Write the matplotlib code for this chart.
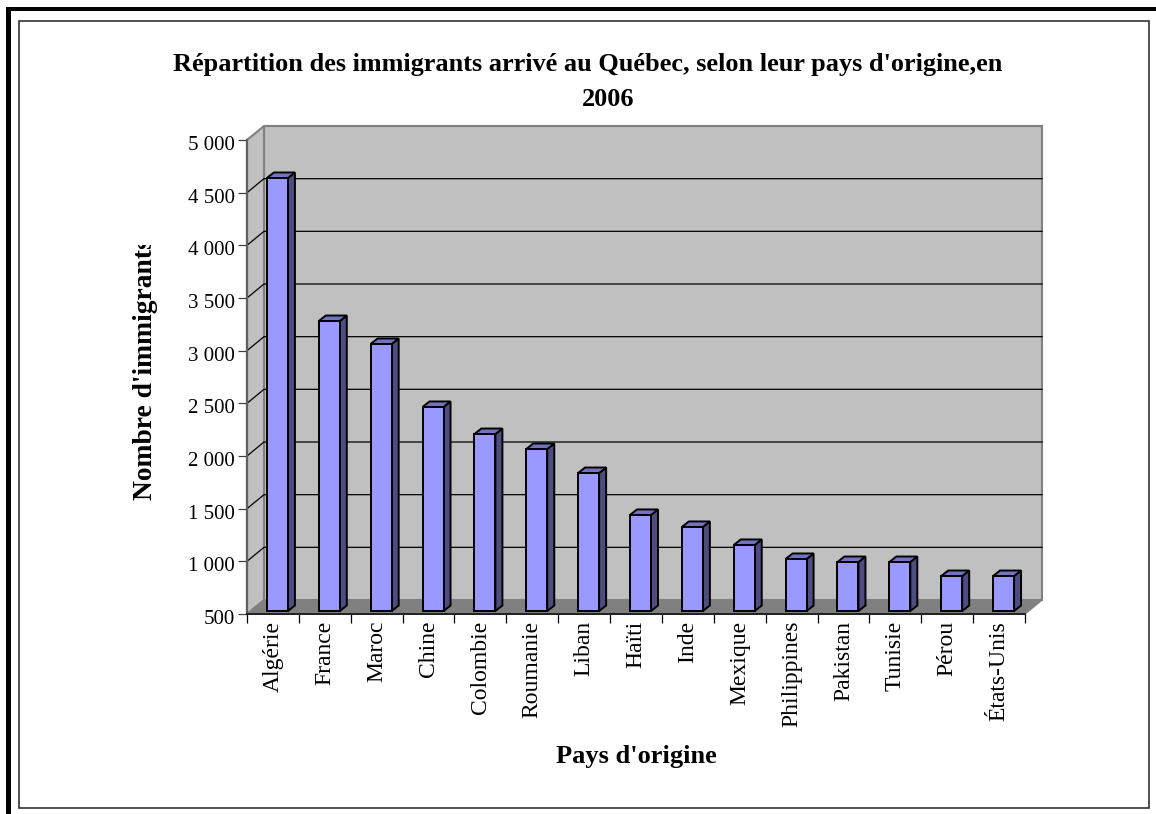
import matplotlib
matplotlib.use("Agg")
import matplotlib.pyplot as plt
from matplotlib.patches import Polygon, Rectangle
from matplotlib.transforms import Bbox, ScaledTranslation

plt.rcParams['font.family'] = ['Liberation Serif', 'DejaVu Serif']

title_line1 = "Répartition des immigrants arrivé au Québec, selon leur pays d'origine,en"
title_line2 = "2006"
xlabel = "Pays d'origine"
ylabel = "Nombre d'immigrants"
countries = ["Algérie", "France", "Maroc", "Chine", "Colombie", "Roumanie", "Liban", "Haïti",
             "Inde", "Mexique", "Philippines", "Pakistan", "Tunisie", "Pérou", "États-Unis"]
immigrants = [4611, 3253, 3035, 2437, 2180, 2038, 1810, 1412, 1298, 1127, 994, 965, 965, 832, 832]
yticks = [500, 1000, 1500, 2000, 2500, 3000, 3500, 4000, 4500, 5000]
ytick_labels = ["500", "1 000", "1 500", "2 000", "2 500", "3 000", "3 500", "4 000", "4 500", "5 000"]

W, H = 1156, 814
fig = plt.figure(figsize=(W / 100, H / 100), dpi=100, facecolor="white")

# Page frame, in figure pixels
bg = fig.add_axes([0, 0, 1, 1])
bg.set_xlim(0, W); bg.set_ylim(H, 0); bg.axis("off")
bg.add_patch(Rectangle((6, 7), 4.5, H, fc="black", ec="none"))
bg.add_patch(Rectangle((6, 7), W, 4, fc="black", ec="none"))
bg.add_patch(Rectangle((18.5, 20.5), 1130.5, 787.5, fc="white", ec="#333333", lw=1.2))

# Front plane of the 3D box
L, R, T, B = 247, 1025, 140, 614
ax = fig.add_axes([L / W, 1 - B / H, (R - L) / W, (B - T) / H])
ax.set_xlim(0, len(countries)); ax.set_ylim(500, 5000)
ax.patch.set_visible(False)
for s in ax.spines.values():
    s.set_visible(False)

px = len(countries) / (R - L)
py = 4500 / (B - T)
DX, DY = 17 * px, 14 * py          # box depth
n = len(countries)
ymin, ymax = 500, 5000

ax.add_patch(Polygon([(0 + DX, ymin + DY), (n + DX, ymin + DY), (n + DX, ymax + DY), (0 + DX, ymax + DY)],
                     fc="#c0c0c0", ec="#808080", lw=1.5, clip_on=False, zorder=1))
ax.add_patch(Polygon([(0, ymin), (DX, ymin + DY), (DX, ymax + DY), (0, ymax)],
                     fc="#c0c0c0", ec="#808080", lw=1.5, clip_on=False, zorder=1))
ax.add_patch(Polygon([(0, ymin), (n, ymin), (n + DX, ymin + DY), (DX, ymin + DY)],
                     fc="#808080", ec="#808080", lw=1, clip_on=False, zorder=1.5))

for v in yticks[1:-1]:
    ax.plot([0, DX, n + DX], [v, v + DY, v + DY], color="black", lw=0.9, clip_on=False, zorder=2)
ax.plot([0, 0], [ymin, ymax], color="#606060", lw=1.6, clip_on=False, zorder=3)
ax.plot([0, n], [ymin, ymin], color="#202020", lw=1.4, clip_on=False, zorder=3)

# Bars
bw = 21 * px
ox, oy = 4.5 * px, 3 * py
bdx, bdy = 7 * px, 5.5 * py
for i, v in enumerate(immigrants):
    x0 = i + 0.5 - bw / 2 + ox
    x1 = x0 + bw
    y0 = ymin + oy
    y1 = v + oy
    kw = dict(ec="black", lw=1.4, clip_on=False, joinstyle="miter", zorder=4)
    ax.add_patch(Polygon([(x1, y0), (x1 + bdx, y0 + bdy), (x1 + bdx, y1 + bdy), (x1, y1)], fc="#4d4d80", **kw))
    ax.add_patch(Polygon([(x0, y1), (x1, y1), (x1 + bdx, y1 + bdy), (x0 + bdx, y1 + bdy)], fc="#7373bf", **kw))
    ax.add_patch(Polygon([(x0, y0), (x1, y0), (x1, y1), (x0, y1)], fc="#9999ff", **kw))

# Ticks
ax.set_yticks(yticks, ytick_labels, fontsize=15)
ax.set_xticks(range(n + 1), [""] * (n + 1))
ax.tick_params(axis="y", length=6.5, width=0.9, pad=2.5, color="#404040")
ax.tick_params(axis="x", length=6.5, width=0.9, color="black")
shift_down = ScaledTranslation(0, -4 / 72, fig.dpi_scale_trans)   # 4 px-ish lower than the tick
for lab in ax.get_yticklabels():
    lab.set_va("center")
    lab.set_transform(lab.get_transform() + shift_down)
for i, name in enumerate(countries):
    ax.annotate(name, (i + 0.5, ymin), xytext=(0, -5), textcoords="offset points", rotation=90,
                ha="center", va="top", fontsize=17, annotation_clip=False)

# Titles
bg.text(588, 64, title_line1, ha="center", va="center", fontsize=18.9, fontweight="bold")
bg.text(608, 99, title_line2, ha="center", va="center", fontsize=18.9, fontweight="bold")
bg.text(636, 757, xlabel, ha="center", va="center", fontsize=19, fontweight="bold")
yl = bg.text(146, 500, ylabel, rotation=90, ha="center", va="bottom", fontsize=19.8, fontweight="bold")
yl.set_clip_on(True)
yl.set_clip_box(Bbox([[120, H - 510], [170, H - 245]]))

fig.savefig("out.png", dpi=100, facecolor="white")
